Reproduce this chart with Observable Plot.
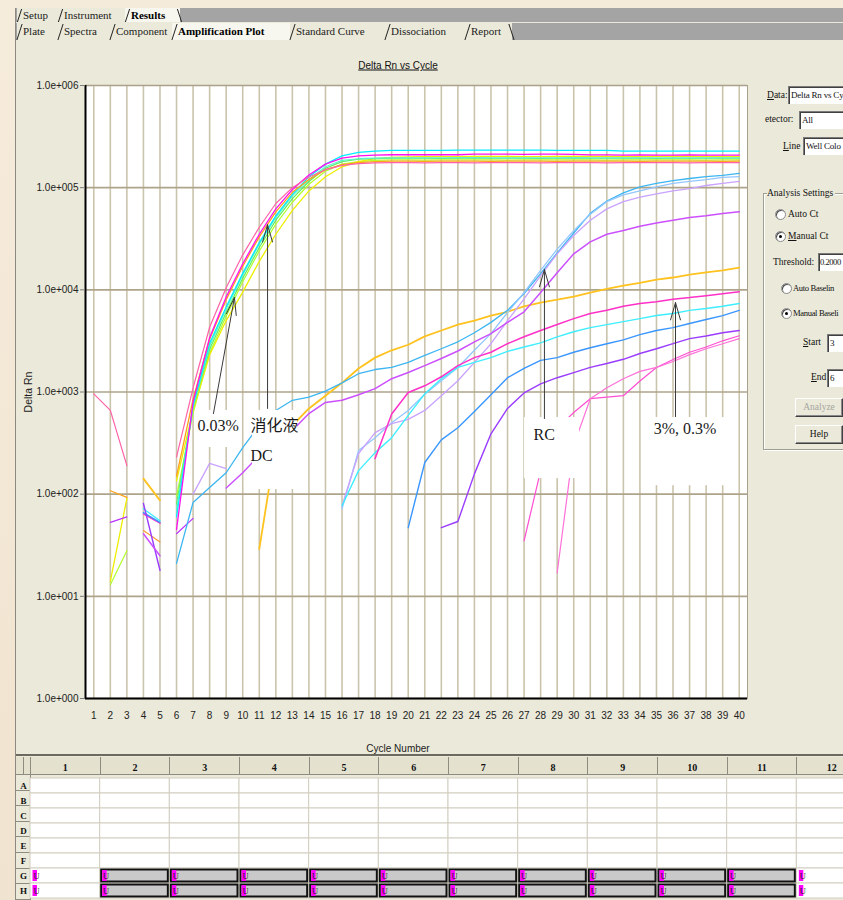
<!DOCTYPE html>
<html>
<head>
<meta charset="utf-8">
<script src="https://cdn.jsdelivr.net/npm/d3@7"></script>
<script src="https://cdn.jsdelivr.net/npm/@observablehq/plot@0.6"></script>
<style>
  html, body { margin: 0; padding: 0; }
  body { width: 843px; height: 900px; overflow: hidden; position: relative; background: #ebe9d9;
         font-family: 'Liberation Serif', 'Noto Sans CJK SC', serif; color: #111; }
  .a { position: absolute; }
  .row { position: absolute; background: #a4a4a4; }
  .tab { position: absolute; top: 0; height: 100%; background: #ebe9d9; font-size: 11px; padding-left: 6px;
         box-sizing: border-box; white-space: nowrap; color: #222; }
  .tab::before { content: ""; position: absolute; left: 2px; top: 1px; bottom: 0; width: 1px; background: #222; transform: skewX(-18deg); }
  .tab.act { background: #f8f7ef; font-weight: bold; color: #000; }
  .endsl { position: absolute; top: 1px; bottom: 0; width: 1px; background: #222; transform: skewX(18deg); }
  .lbl { position: absolute; font-size: 9.5px; line-height: 12px; white-space: nowrap; color: #111; }
  .lbl.tight { font-size: 8.6px; letter-spacing: -0.35px; }
  .inp { position: absolute; background: #fff; border-top: 1px solid #7a7a7a; border-left: 1px solid #7a7a7a;
         box-shadow: inset 1px 1px 0 #404040; font-size: 9px; line-height: 16px; padding-left: 2px; letter-spacing: -0.2px;
         white-space: nowrap; overflow: hidden; box-sizing: border-box; color: #111; }
  .rad { position: absolute; width: 9px; height: 9px; border-radius: 50%; background: #fff; border: 1px solid #8a8a8a;
         box-shadow: inset 1px 1px 0 #505050; }
  .rad.on::after { content: ""; position: absolute; left: 3px; top: 3px; width: 3px; height: 3px; border-radius: 50%; background: #000; }
  .btn { position: absolute; background: #ebe9d9; border: 1px solid; border-color: #fff #404040 #404040 #fff;
         box-shadow: inset -1px -1px 0 #8a8a8a; font-size: 9.5px; text-align: center; box-sizing: border-box; line-height: 17px; }
</style>
</head>
<body>

<!-- plate header & row label backgrounds -->
<div class="a" style="left:16px;top:754px;width:827px;height:2px;background:#6c6a60;"></div>
<div class="a" style="left:0;top:757px;width:843px;height:17px;
     background: repeating-linear-gradient(to right, #8e8c80 0 1px, #e4e2cf 1px 69.67px); background-position: 30px 0;
     border-bottom:1px solid #8e8c80;"></div>
<div class="a" style="left:16px;top:775px;width:14px;height:125px;
     background: repeating-linear-gradient(to bottom, #ebe9d9 0 14.625px, #8e8c80 14.625px 15.625px); border-right:1px solid #8e8c80;"></div>

<div id="chart" class="a" style="left:0;top:40px;width:760px;"></div>
<div id="plate" class="a" style="left:0;top:757px;width:866px;height:143px;"></div>

<!-- wallpaper strips -->
<div class="a" style="left:0;top:0;width:843px;height:8px;background:#f5ebdb;"></div>
<div class="a" style="left:0;top:0;width:15px;height:900px;background:linear-gradient(#f6ecdc,#f0e3cf);"></div>
<div class="a" style="left:15px;top:8px;width:1px;height:892px;background:#8c8a80;"></div>

<!-- tab rows -->
<div class="row" style="left:16px;top:8px;width:827px;height:14px;">
  <div class="tab" style="left:1px;width:41px;line-height:14px;">Setup</div>
  <div class="tab" style="left:42px;width:67px;line-height:14px;">Instrument</div>
  <div class="tab act" style="left:109px;width:55px;line-height:14px;">Results</div>
  <div class="endsl" style="left:163px;"></div>
</div>
<div class="row" style="left:16px;top:23px;width:827px;height:17px;">
  <div class="tab" style="left:1px;width:41px;line-height:17px;">Plate</div>
  <div class="tab" style="left:42px;width:52px;line-height:17px;">Spectra</div>
  <div class="tab" style="left:94px;width:62px;line-height:17px;">Component</div>
  <div class="tab act" style="left:156px;width:118px;line-height:17px;">Amplification Plot</div>
  <div class="tab" style="left:274px;width:95px;line-height:17px;">Standard Curve</div>
  <div class="tab" style="left:369px;width:80px;line-height:17px;">Dissociation</div>
  <div class="tab" style="left:449px;width:47px;line-height:17px;">Report</div>
  <div class="endsl" style="left:495px;"></div>
</div>

<!-- chart titles -->
<div class="a" style="left:398px;top:65px;transform:translate(-50%,-50%);font:10px 'Liberation Sans',Arial,sans-serif;text-decoration:underline;white-space:nowrap;color:#111;">Delta Rn vs Cycle</div>
<div class="a" style="left:28px;top:392px;transform:translate(-50%,-50%) rotate(-90deg);font:10.5px 'Liberation Sans',Arial,sans-serif;white-space:nowrap;color:#222;">Delta Rn</div>
<div class="a" style="left:398px;top:748px;transform:translate(-50%,-50%);font:10px 'Liberation Sans',Arial,sans-serif;white-space:nowrap;color:#222;">Cycle Number</div>

<!-- right panel -->
<div class="lbl" style="left:767px;top:89px;"><u>D</u>ata:</div>
<div class="inp" style="left:788px;top:86px;width:55px;height:18px;">Delta Rn vs Cy</div>
<div class="lbl" style="left:765px;top:113px;">etector:</div>
<div class="inp" style="left:799px;top:111px;width:44px;height:18px;">All</div>
<div class="lbl" style="left:783px;top:140px;"><u>L</u>ine</div>
<div class="inp" style="left:803px;top:137px;width:40px;height:18px;">Well Colo</div>

<div class="a" style="left:763px;top:193px;width:100px;height:255px;border:1px solid #a09f94;box-shadow: inset 1px 1px 0 #fff, 1px 1px 0 #fff;"></div>
<div class="lbl" style="left:767px;top:187px;background:#ebe9d9;padding-right:2px;">Analysis Settings</div>
<div class="rad" style="left:775px;top:209px;"></div>
<div class="lbl" style="left:788px;top:208px;">Auto Ct</div>
<div class="rad on" style="left:775px;top:231px;"></div>
<div class="lbl" style="left:788px;top:230px;"><u>M</u>anual Ct</div>
<div class="lbl" style="left:773px;top:256px;">Threshold:</div>
<div class="inp" style="left:818px;top:253px;width:25px;height:18px;font-size:8.5px;letter-spacing:-0.45px;padding-left:1px;">0.2000</div>
<div class="rad" style="left:781px;top:283px;"></div>
<div class="lbl tight" style="left:793px;top:282px;">Auto Baselin</div>
<div class="rad on" style="left:781px;top:308px;"></div>
<div class="lbl tight" style="left:793px;top:307px;">Manual Baseli</div>
<div class="lbl" style="left:803px;top:336px;"><u>S</u>tart</div>
<div class="inp" style="left:827px;top:334px;width:16px;height:18px;">3</div>
<div class="lbl" style="left:811px;top:371px;"><u>E</u>nd</div>
<div class="inp" style="left:827px;top:369px;width:16px;height:18px;">6</div>
<div class="btn" style="left:795px;top:398px;width:48px;height:19px;color:#a6a6a0;">Analyze</div>
<div class="btn" style="left:795px;top:425px;width:48px;height:19px;">Help</div>

<script>
const _ = null;

// ---------- x / y categories ----------
const cycles = [1,2,3,4,5,6,7,8,9,10,11,12,13,14,15,16,17,18,19,20,21,22,23,24,25,26,27,28,29,30,31,32,33,34,35,36,37,38,39,40];
const yTicks = [1, 10, 100, 1000, 10000, 100000, 1000000];
const yTickLabels = ["1.0e+000","1.0e+001","1.0e+002","1.0e+003","1.0e+004","1.0e+005","1.0e+006"];

// ---------- series values (Delta Rn per cycle, null = not plotted) ----------
const pinkA = [960,660,190,_,_,230,1100,4300,10500,22000,41000,70000,100000,127000,150000,165000,172000,175000,176000,176000,175000,176000,176000,175000,176000,176000,176000,175000,176000,176000,176000,175000,176000,176000,176000,176000,175000,176000,176000,176000];
const magentaA = [_,_,_,_,_,45,800,3400,8500,18000,35000,62000,96000,133000,170000,195000,205000,208000,210000,210000,211000,210000,210000,213000,213000,213000,212000,213000,213000,212000,209000,209000,208000,209000,208000,208000,209000,208000,208000,208000];
const orangeA = [_,108,93,_,_,150,850,3300,8000,17000,33000,58000,90000,120000,150000,168000,176000,180000,182000,182000,181000,182000,182000,182000,181000,182000,182000,182000,181000,182000,182000,182000,182000,181000,182000,182000,182000,182000,181000,182000];
const yellowA = [_,14,91,_,_,135,660,2300,5000,9500,19000,35000,60000,93000,128000,160000,180000,192000,198000,200000,201000,201000,201000,202000,202000,202000,201000,201000,202000,202000,202000,202000,201000,201000,202000,202000,202000,201000,201000,201000];
const greenyellowA = [_,13,28,_,_,95,620,2400,5500,12000,24000,44000,72000,108000,145000,170000,180000,185000,187000,187000,186000,187000,187000,187000,187000,186000,187000,187000,187000,187000,187000,186000,187000,187000,187000,187000,187000,186000,187000,187000];
const greenA = [_,_,_,_,_,80,700,2600,6000,13000,26000,48000,78000,115000,155000,180000,190000,192000,194000,194000,194000,193000,194000,194000,194000,194000,194000,193000,194000,194000,194000,194000,194000,194000,193000,194000,194000,194000,194000,194000];
const aquaA = [_,_,_,_,_,70,720,2800,6500,14000,28000,51000,83000,120000,160000,185000,192000,195000,196000,196000,196000,196000,197000,197000,196000,196000,196000,196000,196000,197000,196000,196000,196000,196000,196000,196000,196000,196000,196000,196000];
const cyanA = [_,_,_,_,_,60,750,3000,6800,14500,29000,53000,86000,128000,170000,205000,222000,228000,232000,232000,232000,232000,233000,233000,233000,233000,233000,233000,232000,232000,232000,232000,228000,228000,228000,228000,228000,228000,228000,228000];

const gold = [_,_,_,142,87,_,_,_,_,_,29,300,470,690,920,1230,1700,2170,2560,2900,3500,4000,4570,5000,5600,6100,6900,7500,8000,8600,9400,10200,11000,11700,12600,13200,14100,14800,15500,16500];
const skyBlue = [_,_,_,_,_,21,83,116,162,285,470,660,830,890,1020,1230,1510,1660,1740,1950,2280,2650,3100,3800,4800,6300,9200,14400,23000,36000,56000,74000,89000,102000,110000,117000,123000,128000,132000,138000];
const lightBlue = [_,_,_,_,_,_,_,_,_,_,_,_,_,_,_,72,267,357,500,660,950,1290,1740,2560,3730,6000,9400,15500,25000,38000,55000,73000,85000,93000,102000,110000,115000,120000,126000,128000];
const lavender = [_,_,_,_,_,_,100,200,178,_,_,_,_,_,_,77,250,400,490,540,660,920,1290,1950,2970,5000,8150,13800,22500,34000,48000,62000,73000,81000,87000,93000,98000,105000,110000,115000];
const cyanLate = [_,_,_,72,55,_,_,_,_,_,_,_,_,_,_,77,170,255,357,590,960,1350,1740,1950,2170,2500,2760,3030,3470,3890,4270,4570,4890,5230,5600,5870,6300,6560,6900,7350];
const deepPink = [_,_,_,64,52,_,_,_,_,_,_,_,_,_,_,_,_,223,610,990,1150,1410,1810,2170,2450,2970,3470,4000,4570,5230,5870,6300,6900,7350,7660,8100,8400,8770,9160,9560];
const dodger = [_,_,_,66,53,_,_,_,_,_,_,_,_,_,_,_,_,_,_,47,204,340,447,645,940,1380,1700,2040,2170,2450,2710,2970,3240,3640,4000,4270,4680,5130,5600,6300];
const blueViolet = [_,_,_,81,18,_,_,_,_,_,_,_,_,_,_,_,_,_,_,_,_,47,54,158,390,690,980,1200,1380,1550,1740,1900,2090,2380,2650,2970,3330,3530,3800,4000];
const orchid = [_,_,_,41,25,_,_,_,115,162,240,335,420,615,790,830,940,1080,1350,1550,1810,2130,2520,3100,3730,4800,6100,9400,14700,22500,29500,35000,38000,42000,45000,48000,51000,53000,56000,58000];
const pinkLateA = [_,_,_,_,_,_,_,_,_,_,_,_,_,_,_,_,_,_,_,_,_,_,_,_,_,_,35,170,440,630,860,890,920,1280,1740,2080,2450,2760,3170,3550];
const pinkLateB = [_,_,_,_,_,_,_,_,_,_,_,_,_,_,_,_,_,_,_,_,_,_,_,_,_,_,_,_,17,300,860,1100,1350,1590,1740,1990,2320,2650,2970,3330];
const violet = [_,53,60,_,_,41,58,_,_,_,_,_,_,_,_,_,_,_,_,_,_,_,_,_,_,_,_,_,_,_,_,_,_,_,_,_,_,_,_,_];
const orangeB = [_,_,_,44,34,_,_,_,_,_,_,_,_,_,_,_,_,_,_,_,_,_,_,_,_,_,_,_,_,_,_,_,_,_,_,_,_,_,_,_];

const seriesList = [
  {values: greenyellowA, color: "#b2ff2c", w: 1.2},
  {values: yellowA,      color: "#eeee00", w: 1.3},
  {values: greenA,       color: "#5ef05e", w: 1.2},
  {values: aquaA,        color: "#5ff2cf", w: 1.2},
  {values: cyanA,        color: "#00eeff", w: 1.3},
  {values: orangeA,      color: "#ffa21a", w: 1.3},
  {values: magentaA,     color: "#ff10f0", w: 1.3},
  {values: pinkA,        color: "#ff62a8", w: 1.2},
  {values: violet,       color: "#bb33ff", w: 1.2},
  {values: orangeB,      color: "#ff9a33", w: 1.2},
  {values: gold,         color: "#ffc21f", w: 1.8},
  {values: skyBlue,      color: "#3cb6f2", w: 1.3},
  {values: lightBlue,    color: "#93c6ff", w: 1.3},
  {values: lavender,     color: "#c9a2ff", w: 1.3},
  {values: cyanLate,     color: "#3eeeff", w: 1.4},
  {values: deepPink,     color: "#ff30c8", w: 1.5},
  {values: dodger,       color: "#3a96ff", w: 1.4},
  {values: blueViolet,   color: "#9a3cff", w: 1.4},
  {values: orchid,       color: "#cc50ff", w: 1.5},
  {values: pinkLateA,    color: "#ff4fd2", w: 1.2},
  {values: pinkLateB,    color: "#ff70d8", w: 1.2}
];

// ---------- annotations ----------
const labelBoxes = [
  {x1: 7.15, x2: 9.87, y1: 286, y2: 660},
  {x1: 10.59, x2: 13.31, y1: 111, y2: 660},
  {x1: 27.03, x2: 30.35, y1: 142, y2: 562},
  {x1: 34.47, x2: 39.47, y1: 121, y2: 562}
];
const labelTexts = [
  {x: 7.27, y: 469, text: "0.03%"},
  {x: 10.47, y: 469, text: "消化液"},
  {x: 10.47, y: 239, text: "DC"},
  {x: 27.57, y: 383, text: "RC"},
  {x: 34.83, y: 438, text: "3%, 0.3%"}
];
const arrows = [
  {x1: 8.23, y1: 615, x2: 9.50, y2: 8400},
  {x1: 11.5, y1: 690, x2: 11.5, y2: 43400},
  {x1: 28.23, y1: 550, x2: 28.23, y2: 15800},
  {x1: 36.15, y1: 574, x2: 36.15, y2: 7500}
];

const lineMarks = seriesList.map(s =>
  Plot.line(cycles, {
    x: c => c,
    y: (c, i) => (s.values[i] == null ? NaN : s.values[i]),
    stroke: s.color, strokeWidth: s.w, strokeLinejoin: "miter"
  })
);

const chart = Plot.plot({
  width: 760, height: 700,
  marginLeft: 85, marginRight: 13, marginTop: 45, marginBottom: 42,
  style: {background: "transparent", fontFamily: "'Liberation Sans', Arial, sans-serif", fontSize: "10px", color: "#222"},
  x: {domain: [0.5, 40.5]},
  y: {type: "log", domain: [1, 1000000]},
  marks: [
    Plot.frame({fill: "white", stroke: null}),
    Plot.ruleX(cycles, {stroke: "#cbc4ac", strokeWidth: 1.6}),
    Plot.ruleY(yTicks, {stroke: "#aea48a", strokeWidth: 1.6}),
    ...lineMarks,
    Plot.rect(labelBoxes, {x1: "x1", x2: "x2", y1: "y1", y2: "y2", fill: "white"}),
    Plot.text(labelTexts, {x: "x", y: "y", text: "text", textAnchor: "start", fontSize: 16,
      fontFamily: "'Liberation Serif', 'Noto Sans CJK SC', serif", fill: "#1a1a1a"}),
    Plot.arrow(arrows, {x1: "x1", y1: "y1", x2: "x2", y2: "y2", stroke: "#3a3a3a", strokeWidth: 1,
      headLength: 27, headAngle: 32}),
    Plot.frame({stroke: "#a9a18c"}),
    Plot.ruleX([0.5], {stroke: "#000", strokeWidth: 2}),
    Plot.ruleY([1], {stroke: "#000", strokeWidth: 2}),
    Plot.axisX(cycles, {anchor: "bottom", tickSize: 0, tickPadding: 13, label: null, tickFormat: d => String(d)}),
    Plot.axisY(yTicks, {anchor: "left", tickSize: 5, tickPadding: 2, label: null, stroke: "#7d7d7d",
      tickFormat: d => yTickLabels[yTicks.indexOf(d)]})
  ]
});
chart.style.maxWidth = "none";
document.getElementById("chart").append(chart);

// ---------- plate grid ----------
const plateRows = ["A","B","C","D","E","F","G","H"];
const plateCols = [1,2,3,4,5,6,7,8,9,10,11,12];
const usedRows = ["G","H"];
const filledCols = [2,3,4,5,6,7,8,9,10,11];

const wells = plateRows.flatMap(r => plateCols.map(c => ({row: r, col: c})));
const usedWells = wells.filter(d => usedRows.includes(d.row));
const filledWells = usedWells.filter(d => filledCols.includes(d.col));

const plate = Plot.plot({
  width: 866, height: 143,
  marginLeft: 30, marginRight: 0, marginTop: 18, marginBottom: 0,
  style: {background: "transparent", fontFamily: "'Liberation Serif', serif", fontSize: "10px", color: "#111"},
  x: {domain: [0.5, 12.5]},
  y: {type: "band", domain: plateRows, padding: 0},
  marks: [
    Plot.barX(wells, {x1: d => d.col - 0.5, x2: d => d.col + 0.5, y: "row", fill: "white", stroke: "#d2cec0", strokeWidth: 1}),
    Plot.barX(filledWells, {x1: d => d.col - 0.5, x2: d => d.col + 0.5, y: "row", fill: "#c9c9c9", stroke: "#111", strokeWidth: 2, inset: 1.5}),
    Plot.barX(usedWells, {x1: d => d.col - 0.5, x2: d => d.col - 0.5 + 0.1, y: "row", fill: "#ff00ff", insetTop: 2, insetBottom: 2, insetLeft: 2.5, insetRight: 0}),
    Plot.text(usedWells, {x: d => d.col - 0.5, y: "row", text: () => "U", dx: 6, fontSize: 8.5, fill: "#222"}),
    Plot.axisX(plateCols, {anchor: "top", tickSize: 0, tickPadding: 5, label: null, fontWeight: "bold", fontSize: 10}),
    Plot.axisY(plateRows, {anchor: "left", tickSize: 0, tickPadding: 7, label: null, fontWeight: "bold", fontSize: 9, textAnchor: "middle"})
  ]
});
plate.style.maxWidth = "none";
document.getElementById("plate").append(plate);
</script>
</body>
</html>
